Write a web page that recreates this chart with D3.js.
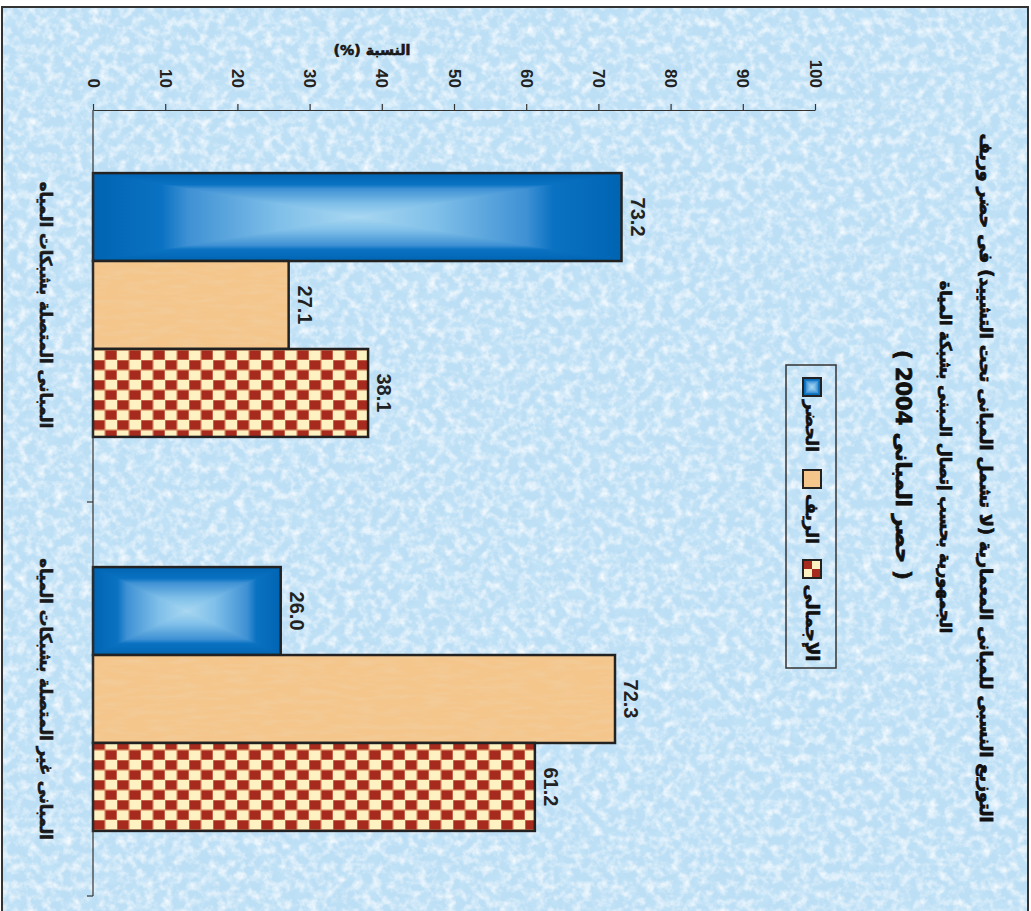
<!DOCTYPE html>
<html><head><meta charset="utf-8">
<script src="https://cdn.jsdelivr.net/npm/d3@7"></script>
<style>body{margin:0;background:#fff}svg{display:block}</style>
</head><body>
<svg id="c" width="1031" height="911"></svg>
<script>
const categories = ["المبانى المتصلة بشبكات المياه", "المبانى غير المتصلة بشبكات المياه"];
const series = ["الحضر", "الريف", "الإجمالى"];
const urbanValues = [73.2, 26.0];
const ruralValues = [27.1, 72.3];
const totalValues = [38.1, 61.2];
const valueTicks = [0,10,20,30,40,50,60,70,80,90,100];
const titleLines = [
  "التوزيع النسبى للمبانى المعمارية (لا تشمل المبانى تحت التشييد) فى حضر وريف",
  "الجمهورية بحسب إتصال المبنى بشبكة المياة",
  "( حصر المبانى 2004 )"
];
const axisTitle = "النسبة (%)";

const data = categories.map((c,i)=>({cat:c, vals:[urbanValues[i], ruralValues[i], totalValues[i]]}));

const svg = d3.select("#c");
const defs = svg.append("defs");
const AR = "'DejaVu Sans', sans-serif";
const NUM = "'Liberation Sans', Arial, sans-serif";

// background texture
const f = defs.append("filter").attr("id","bgtex").attr("x",0).attr("y",0).attr("width","100%").attr("height","100%");
f.append("feTurbulence").attr("type","fractalNoise").attr("baseFrequency","0.11").attr("numOctaves",3).attr("seed",7).attr("result","n");
f.append("feColorMatrix").attr("in","n").attr("type","matrix")
 .attr("values","0 0 0 0 0.96  0 0 0 0 0.98  0 0 0 0 1  1.9 0 0 0 -0.78");
const f2 = defs.append("filter").attr("id","bgtex2").attr("x",0).attr("y",0).attr("width","100%").attr("height","100%");
f2.append("feTurbulence").attr("type","fractalNoise").attr("baseFrequency","0.07").attr("numOctaves",2).attr("seed",3).attr("result","n");
f2.append("feColorMatrix").attr("in","n").attr("type","matrix")
 .attr("values","0 0 0 0 0.55  0 0 0 0 0.78  0 0 0 0 0.94  1.8 0 0 0 -0.85");
// tan texture
const f3 = defs.append("filter").attr("id","tantex").attr("x",0).attr("y",0).attr("width","100%").attr("height","100%");
f3.append("feTurbulence").attr("type","fractalNoise").attr("baseFrequency","0.04 0.2").attr("numOctaves",2).attr("seed",5).attr("result","n");
f3.append("feColorMatrix").attr("in","n").attr("type","matrix")
 .attr("values","0 0 0 0 0.88  0 0 0 0 0.66  0 0 0 0 0.42  1.5 0 0 0 -0.6");

svg.append("rect").attr("x",2).attr("y",7).attr("width",1026).attr("height",910).attr("fill","#bddff5");
svg.append("rect").attr("x",2).attr("y",7).attr("width",1026).attr("height",910).attr("filter","url(#bgtex2)");
svg.append("rect").attr("x",2).attr("y",7).attr("width",1026).attr("height",910).attr("filter","url(#bgtex)");
svg.append("rect").attr("x",2).attr("y",7).attr("width",1026).attr("height",910).attr("fill","none").attr("stroke","#333").attr("stroke-width",2);

// scales
const x = d3.scaleLinear().domain([0,100]).range([93,815]);
const y0 = d3.scaleBand().domain(categories).range([108,896]).paddingInner(0).paddingOuter(0);
const y1 = d3.scaleBand().domain(series).range([0,y0.bandwidth()]).paddingInner(0).paddingOuter(0.74);

// checker pattern
const pat = defs.append("pattern").attr("id","checker").attr("patternUnits","userSpaceOnUse")
  .attr("x",x(0)).attr("y",0).attr("width",24).attr("height",20);
pat.append("rect").attr("width",24).attr("height",20).attr("fill","#fff2c2");
pat.append("rect").attr("x",0).attr("y",0).attr("width",12).attr("height",10).attr("fill","#a62a1e").attr("stroke","#d98a62").attr("stroke-width",1.2);
pat.append("rect").attr("x",12).attr("y",10).attr("width",12).attr("height",10).attr("fill","#a62a1e").attr("stroke","#d98a62").attr("stroke-width",1.2);
const patL = defs.append("pattern").attr("id","checkerL").attr("patternUnits","userSpaceOnUse")
  .attr("x",803).attr("y",560).attr("width",18).attr("height",18);
patL.append("rect").attr("width",18).attr("height",18).attr("fill","#fff2c2");
patL.append("rect").attr("width",9).attr("height",9).attr("fill","#a62a1e");
patL.append("rect").attr("x",9).attr("y",9).attr("width",9).attr("height",9).attr("fill","#a62a1e");

// blue gradients (pyramid)
const stops = [[0,"#0064b2"],[0.26,"#0a72c2"],[0.36,"#3f91d4"],[0.7,"#7fbfe9"],[1,"#a8d7f1"]];
function grad(id,x1,y1_,x2,y2){
  const g = defs.append("linearGradient").attr("id",id).attr("x1",x1).attr("y1",y1_).attr("x2",x2).attr("y2",y2);
  stops.forEach(s=>g.append("stop").attr("offset",s[0]).attr("stop-color",s[1]));
}
grad("gL",0,0,1,0); grad("gR",1,0,0,0);
const gv = defs.append("linearGradient").attr("id","gV").attr("x1",0).attr("y1",0).attr("x2",0).attr("y2",1);
stops.forEach(s=>gv.append("stop").attr("offset",s[0]/2).attr("stop-color",s[1]));
stops.slice().reverse().forEach(s=>gv.append("stop").attr("offset",1-s[0]/2).attr("stop-color",s[1]));

function blueFill(g, bx, by, bw, bh){
  const cx = bx+bw/2, cy = by+bh/2;
  g.append("rect").attr("x",bx).attr("y",by).attr("width",bw).attr("height",bh).attr("fill","url(#gV)");
  g.append("polygon").attr("points",[[bx,by],[bx,by+bh],[cx,cy]].join(" ")).attr("fill","url(#gL)");
  g.append("polygon").attr("points",[[bx+bw,by],[bx+bw,by+bh],[cx,cy]].join(" ")).attr("fill","url(#gR)");
}

// bars
const barsG = svg.append("g");
data.forEach(d=>{
  d.vals.forEach((v,j)=>{
    const bx = x(0), by = y0(d.cat)+y1(series[j]), bw = x(v)-x(0), bh = y1.bandwidth();
    if(j===0){
      blueFill(barsG.append("g"), bx, by, bw, bh);
      barsG.append("rect").attr("x",bx).attr("y",by).attr("width",bw).attr("height",bh).attr("fill","none").attr("stroke","#222").attr("stroke-width",2.5);
    } else if(j===1){
      barsG.append("rect").attr("x",bx).attr("y",by).attr("width",bw).attr("height",bh).attr("fill","#f4c68c");
      barsG.append("rect").attr("x",bx).attr("y",by).attr("width",bw).attr("height",bh).attr("filter","url(#tantex)").attr("opacity",0.55);
      barsG.append("rect").attr("x",bx).attr("y",by).attr("width",bw).attr("height",bh).attr("fill","none").attr("stroke","#222").attr("stroke-width",2.5);
    } else {
      barsG.append("rect").attr("x",bx).attr("y",by).attr("width",bw).attr("height",bh).attr("fill","url(#checker)").attr("stroke","#222").attr("stroke-width",2.5);
    }
    svg.append("text").attr("transform",`translate(${x(v)+16},${by+bh/2}) rotate(90)`)
      .attr("text-anchor","middle").attr("dy","0.35em")
      .attr("font-family",NUM).attr("font-weight","bold").attr("font-size",20).attr("fill","#222")
      .text(v.toFixed(1));
  });
});

// value axis (top)
const axY = 110;
const ax = svg.append("g").attr("transform",`translate(0,${axY})`)
  .call(d3.axisTop(x).tickValues(valueTicks).tickSizeInner(6).tickSizeOuter(0).tickFormat(d3.format("d")));
ax.select(".domain").attr("stroke","#333").attr("stroke-width",1.2);
ax.selectAll(".tick line").attr("stroke","#333").attr("stroke-width",1.2);
ax.selectAll(".tick text").attr("x",-22).attr("y",0).attr("dy","0.35em").attr("transform","rotate(90)")
  .attr("text-anchor","end").attr("font-family",NUM).attr("font-weight","bold").attr("font-size",17).attr("fill","#222");

// category axis (left)
svg.append("line").attr("x1",x(0)).attr("x2",x(0)).attr("y1",axY).attr("y2",y0.range()[1]).attr("stroke","#333").attr("stroke-width",1.2);
const bounds = categories.map(c=>y0(c)+y0.bandwidth());
svg.selectAll(".ctick").data(bounds).join("line").attr("x1",x(0)-6).attr("x2",x(0)).attr("y1",d=>d).attr("y2",d=>d).attr("stroke","#333").attr("stroke-width",1.2);

function fit(sel, target){
  const n = sel.node(); const L = n.getComputedTextLength(); const fs = +sel.attr("font-size");
  if(L>0) sel.attr("font-size", fs*target/L);
}
function arText(parent){
  return parent.append("text").attr("direction","rtl").style("direction","rtl").style("unicode-bidi","embed")
    .attr("font-family",AR).attr("font-weight","bold").attr("stroke","#111").attr("stroke-width",0.6);
}

// category labels
const catLens = [247, 282];
categories.forEach((c,i)=>{
  const t = arText(svg).attr("transform",`translate(46,${y0(c)+y0.bandwidth()/2}) rotate(90)`)
    .attr("text-anchor","middle").attr("dy","0.35em").attr("font-size",18).attr("fill","#1a1a1a").text(c);
  fit(t, catLens[i]);
});

// axis title (upright)
const at = arText(svg).attr("x",372).attr("y",55).attr("text-anchor","middle")
  .attr("font-size",15).attr("fill","#1a1a1a").text(axisTitle);
fit(at, 77);

// title
const tPos = [[986,478,690],[946,457,353],[903,465,230]];
titleLines.forEach((s,i)=>{
  const t = arText(svg).attr("transform",`translate(${tPos[i][0]},${tPos[i][1]}) rotate(90)`)
    .attr("text-anchor","middle").attr("dy","0.35em").attr("font-size",22).attr("fill","#111").attr("stroke-width",0.8).text(s);
  fit(t, tPos[i][2]);
});

// legend
svg.append("rect").attr("x",786).attr("y",365).attr("width",50).attr("height",303).attr("fill","none").attr("stroke","#333").attr("stroke-width",1.5);
const legSq = [378, 470, 560];
const legTx = [[426,52],[519,50],[623,77]];
series.forEach((s,j)=>{
  const sx=803, sy=legSq[j], ss=18;
  if(j===0){ blueFill(svg.append("g"), sx, sy, ss, ss); svg.append("rect").attr("x",sx).attr("y",sy).attr("width",ss).attr("height",ss).attr("fill","none").attr("stroke","#222").attr("stroke-width",2); }
  else if(j===1){ svg.append("rect").attr("x",sx).attr("y",sy).attr("width",ss).attr("height",ss).attr("fill","#f4c68c").attr("stroke","#222").attr("stroke-width",2); }
  else { svg.append("rect").attr("x",sx).attr("y",sy).attr("width",ss).attr("height",ss).attr("fill","url(#checkerL)").attr("stroke","#222").attr("stroke-width",2); }
  const t = arText(svg).attr("transform",`translate(812,${legTx[j][0]}) rotate(90)`)
    .attr("text-anchor","middle").attr("dy","0.35em").attr("font-size",17).attr("fill","#111").text(s);
  fit(t, legTx[j][1]);
});
</script>
</body></html>
